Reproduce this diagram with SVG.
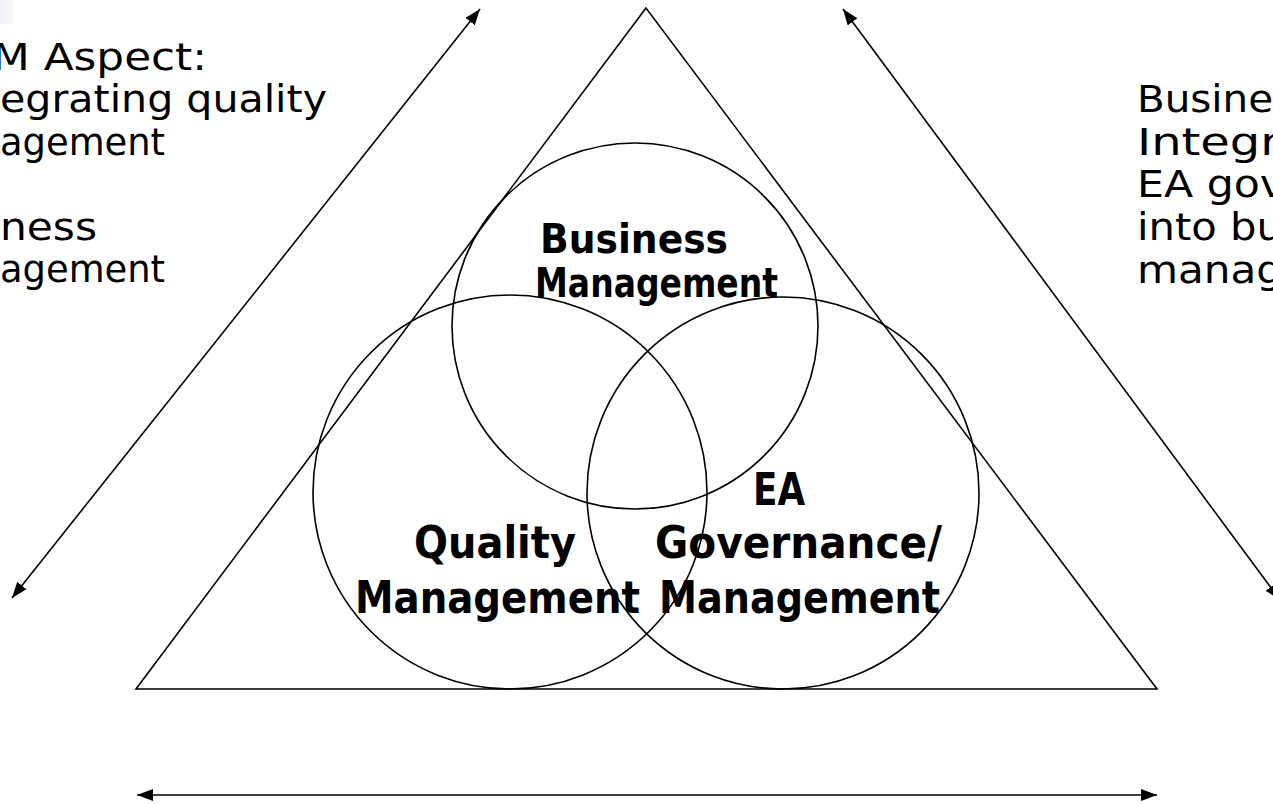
<svg xmlns="http://www.w3.org/2000/svg" width="1273" height="804" viewBox="0 0 1273 804">
  <style>
    .shape { fill: none; stroke: #000; stroke-width: 1.6; }
    .conn { fill: none; stroke: #000; stroke-width: 1.6; }
    .note { font-family: "DejaVu Sans", "Liberation Sans", sans-serif; font-size: 37px; fill: #000; }
    .lbl { font-family: "DejaVu Sans", "Liberation Sans", sans-serif; font-weight: bold; fill: #000; }
    .lblTop { font-size: 40px; }
    .lblBot { font-size: 44px; }
  </style>
  <defs>
    <marker id="ah" viewBox="0 0 16 12" refX="16" refY="6" markerWidth="16" markerHeight="12" markerUnits="userSpaceOnUse" orient="auto-start-reverse">
      <path d="M0,0 L16,6 L0,12 z" fill="#000"/>
    </marker>
    <linearGradient id="corner" x1="0" y1="0" x2="1" y2="0">
      <stop offset="0" stop-color="#eeeef8"/>
      <stop offset="1" stop-color="#f8f8fc"/>
    </linearGradient>
  </defs>
  <rect width="1273" height="804" fill="#fff"/>
  <rect x="0" y="0" width="14" height="24" fill="url(#corner)"/>

  <g id="connectors">
    <line class="conn" x1="12" y1="598" x2="480" y2="9" marker-start="url(#ah)" marker-end="url(#ah)"/>
    <line class="conn" x1="843" y1="9" x2="1280" y2="600" marker-start="url(#ah)" marker-end="url(#ah)"/>
    <line class="conn" x1="137" y1="795" x2="1157" y2="795" marker-start="url(#ah)" marker-end="url(#ah)"/>
  </g>

  <g id="triangle">
    <polygon class="shape" points="646,8 136,689 1157,689"/>
  </g>

  <g id="business-management">
    <circle class="shape" cx="635" cy="326" r="183"/>
    <text class="lbl lblTop" x="540" y="253" textLength="188" lengthAdjust="spacingAndGlyphs">Business</text>
    <text class="lbl lblTop" x="535" y="297" textLength="243" lengthAdjust="spacingAndGlyphs">Management</text>
  </g>

  <g id="quality-management">
    <circle class="shape" cx="510" cy="492" r="197"/>
    <text class="lbl lblBot" x="414" y="558" textLength="162" lengthAdjust="spacingAndGlyphs">Quality</text>
    <text class="lbl lblBot" x="355" y="613" textLength="285" lengthAdjust="spacingAndGlyphs">Management</text>
  </g>

  <g id="ea-governance">
    <circle class="shape" cx="783" cy="493" r="196"/>
    <text class="lbl lblBot" x="753" y="505" textLength="52" lengthAdjust="spacingAndGlyphs">EA</text>
    <text class="lbl lblBot" x="655" y="558" textLength="287" lengthAdjust="spacingAndGlyphs">Governance/</text>
    <text class="lbl lblBot" x="659" y="613" textLength="281" lengthAdjust="spacingAndGlyphs">Management</text>
  </g>

  <g id="left-note">
    <text class="note" x="-8" y="70" textLength="215" lengthAdjust="spacingAndGlyphs">M Aspect:</text>
    <text class="note" x="0" y="112" textLength="327" lengthAdjust="spacingAndGlyphs">egrating quality</text>
    <text class="note" x="0" y="155" textLength="165" lengthAdjust="spacingAndGlyphs">agement</text>
    <text class="note" x="0" y="240" textLength="97" lengthAdjust="spacingAndGlyphs">ness</text>
    <text class="note" x="0" y="282" textLength="165" lengthAdjust="spacingAndGlyphs">agement</text>
  </g>

  <g id="right-note">
    <text class="note" x="1137" y="112" textLength="136" lengthAdjust="spacingAndGlyphs">Busine</text>
    <text class="note" x="1137" y="155" textLength="143" lengthAdjust="spacingAndGlyphs">Integr</text>
    <text class="note" x="1137" y="197" textLength="148" lengthAdjust="spacingAndGlyphs">EA gov</text>
    <text class="note" x="1137" y="240" textLength="146" lengthAdjust="spacingAndGlyphs">into bu</text>
    <text class="note" x="1137" y="283" textLength="146" lengthAdjust="spacingAndGlyphs">manag</text>
  </g>
</svg>
